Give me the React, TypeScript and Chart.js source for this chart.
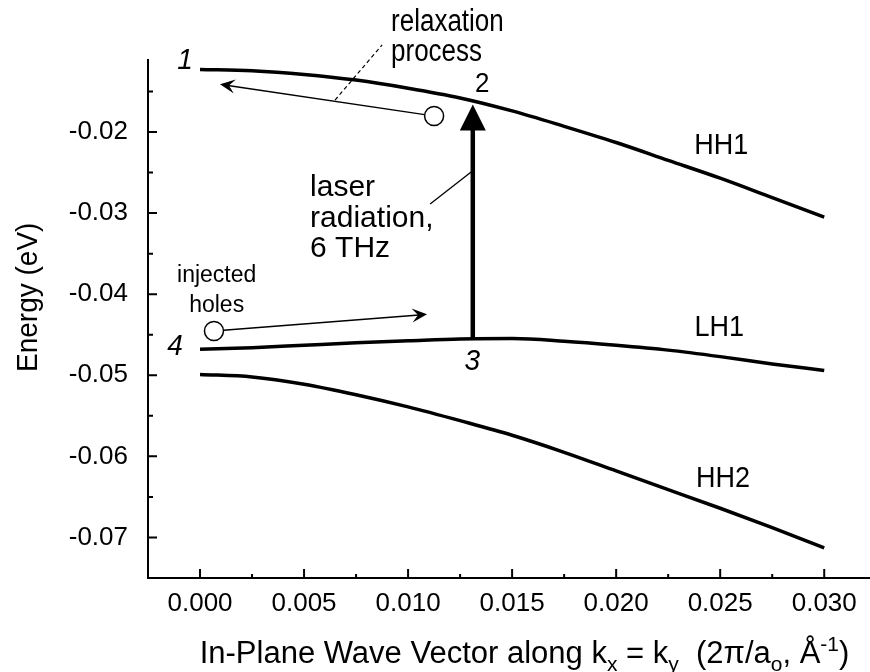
import { useEffect, useRef } from "react";
import { Chart, registerables } from "chart.js";

Chart.register(...registerables);

// ---- data ----
const kValues = [0, 0.0025, 0.005, 0.0075, 0.01, 0.0125, 0.015, 0.0175, 0.02, 0.0225, 0.025, 0.0275, 0.03];
const hh1Energy = [-0.0123, -0.01245, -0.0129, -0.0136, -0.0146, -0.0158, -0.0174, -0.0193, -0.0213, -0.0235, -0.0257, -0.0281, -0.0305];
const lh1Energy = [-0.0468, -0.0466, -0.0463, -0.046, -0.04575, -0.04552, -0.04548, -0.0458, -0.0463, -0.0469, -0.0477, -0.0486, -0.0494];
const hh2Energy = [-0.0499, -0.0502, -0.0511, -0.0524, -0.0539, -0.0556, -0.0574, -0.0595, -0.0618, -0.0641, -0.0664, -0.0688, -0.0713];

const xTicks = [0, 0.005, 0.01, 0.015, 0.02, 0.025, 0.03];
const xMinorTicks = [-0.0025, 0.0025, 0.0075, 0.0125, 0.0175, 0.0225, 0.0275];
const yTicks = [-0.02, -0.03, -0.04, -0.05, -0.06, -0.07];
const yMinorTicks = [-0.015, -0.025, -0.035, -0.045, -0.055, -0.065, -0.075];

// band labels
const bandLabels = ["HH1", "LH1", "HH2"];
const bandLabelK = [0.02505, 0.02495, 0.02514];
const bandLabelE = [-0.02173, -0.04417, -0.0628];

// state numbers
const pointLabels = ["1", "2", "3", "4"];
const pointLabelK = [-0.00072, 0.01356, 0.01308, -0.0012];
const pointLabelE = [-0.01125, -0.01408, -0.04837, -0.04652];
const pointLabelItalic = [true, false, true, true];

// thin arrows (relaxation, injected holes): circle start -> arrow tip
const arrowStartK = [0.01125, 0.00067];
const arrowStartE = [-0.01803, -0.04454];
const arrowEndK = [0.00096, 0.01091];
const arrowEndE = [-0.01412, -0.04248];

// laser transition arrow 3 -> 2
const laserK = 0.01311;
const laserFromE = -0.0455;
const laserToE = -0.0166;

// annotation texts
const relaxText = ["relaxation", "process"];
const relaxTextK = 0.00918;
const relaxTextE = [-0.00755, -0.01125];
const relaxLeaderK = [0.00649, 0.00875];
const relaxLeaderE = [-0.01606, -0.00927];

const laserText = ["laser", "radiation,", "6 THz"];
const laserTextK = 0.00529;
const laserTextE = [-0.0279, -0.03168, -0.03545];
const laserLeaderK = [0.01106, 0.01303];
const laserLeaderE = [-0.02888, -0.02494];

const holesText = ["injected", "holes"];
const holesTextK = 0.0008;
const holesTextE = [-0.0385, -0.04216];

const FONT = "'Liberation Sans', Arial, Helvetica, sans-serif";

function drawText(
  ctx: CanvasRenderingContext2D,
  text: string,
  x: number,
  y: number,
  font: string,
  align: CanvasTextAlign,
  baseline: CanvasTextBaseline,
  sy = 1
) {
  ctx.save();
  ctx.translate(x, y);
  ctx.scale(1, sy);
  ctx.font = font;
  ctx.textAlign = align;
  ctx.textBaseline = baseline;
  ctx.fillStyle = "#000";
  ctx.fillText(text, 0, 0);
  ctx.restore();
}

function stealthHead(ctx: CanvasRenderingContext2D, tx: number, ty: number, fx: number, fy: number, len: number, half: number, notch: number) {
  const ang = Math.atan2(ty - fy, tx - fx);
  ctx.save();
  ctx.translate(tx, ty);
  ctx.rotate(ang);
  ctx.beginPath();
  ctx.moveTo(0, 0);
  ctx.lineTo(-len, -half);
  ctx.lineTo(-notch, 0);
  ctx.lineTo(-len, half);
  ctx.closePath();
  ctx.fillStyle = "#000";
  ctx.fill();
  ctx.restore();
}

const overlay = {
  id: "overlay",
  afterDraw(chart: any) {
    const ctx: CanvasRenderingContext2D = chart.ctx;
    const ca = chart.chartArea;
    const sx = chart.scales.x;
    const sy = chart.scales.y;
    const X = (v: number) => sx.getPixelForValue(v);
    const Y = (v: number) => sy.getPixelForValue(v);

    ctx.save();
    ctx.strokeStyle = "#000";
    ctx.lineCap = "butt";

    // axes lines
    ctx.lineWidth = 2;
    ctx.beginPath();
    ctx.moveTo(ca.left, ca.top);
    ctx.lineTo(ca.left, ca.bottom);
    ctx.moveTo(ca.left - 1, ca.bottom);
    ctx.lineTo(ca.right, ca.bottom);
    ctx.stroke();

    // inward ticks
    ctx.beginPath();
    yTicks.forEach((v) => {
      const p = Y(v);
      ctx.moveTo(ca.left, p);
      ctx.lineTo(ca.left + 9, p);
    });
    yMinorTicks.forEach((v) => {
      const p = Y(v);
      ctx.moveTo(ca.left, p);
      ctx.lineTo(ca.left + 5, p);
    });
    xTicks.forEach((v) => {
      const p = X(v);
      ctx.moveTo(p, ca.bottom);
      ctx.lineTo(p, ca.bottom - 9);
    });
    xMinorTicks.forEach((v) => {
      const p = X(v);
      ctx.moveTo(p, ca.bottom);
      ctx.lineTo(p, ca.bottom - 4);
    });
    ctx.stroke();

    // thin arrows with open circles
    for (let i = 0; i < arrowStartK.length; i++) {
      const cx = X(arrowStartK[i]);
      const cy = Y(arrowStartE[i]);
      const tx = X(arrowEndK[i]);
      const ty = Y(arrowEndE[i]);
      const r = 9.5;
      const ang = Math.atan2(ty - cy, tx - cx);
      ctx.lineWidth = 1.5;
      ctx.beginPath();
      ctx.moveTo(cx + r * Math.cos(ang), cy + r * Math.sin(ang));
      ctx.lineTo(tx - 8 * Math.cos(ang), ty - 8 * Math.sin(ang));
      ctx.stroke();
      stealthHead(ctx, tx, ty, cx, cy, 15, 7, 9);
      ctx.beginPath();
      ctx.arc(cx, cy, r, 0, Math.PI * 2);
      ctx.fillStyle = "#fff";
      ctx.fill();
      ctx.lineWidth = 1.5;
      ctx.stroke();
    }

    // laser arrow
    const lx = X(laserK);
    const lyFrom = Y(laserFromE);
    const lyTo = Y(laserToE);
    ctx.lineWidth = 4.5;
    ctx.beginPath();
    ctx.moveTo(lx, lyFrom);
    ctx.lineTo(lx, lyTo + 24);
    ctx.stroke();
    ctx.beginPath();
    ctx.moveTo(lx, lyTo);
    ctx.lineTo(lx - 13, lyTo + 26);
    ctx.lineTo(lx + 13, lyTo + 26);
    ctx.closePath();
    ctx.fillStyle = "#000";
    ctx.fill();

    // leader lines
    ctx.lineWidth = 1.3;
    ctx.beginPath();
    ctx.moveTo(X(laserLeaderK[0]), Y(laserLeaderE[0]));
    ctx.lineTo(X(laserLeaderK[1]), Y(laserLeaderE[1]));
    ctx.stroke();
    ctx.save();
    ctx.setLineDash([4, 3]);
    ctx.lineWidth = 1.2;
    ctx.beginPath();
    ctx.moveTo(X(relaxLeaderK[0]), Y(relaxLeaderE[0]));
    ctx.lineTo(X(relaxLeaderK[1]), Y(relaxLeaderE[1]));
    ctx.stroke();
    ctx.restore();

    // texts
    bandLabels.forEach((t, i) => drawText(ctx, t, X(bandLabelK[i]), Y(bandLabelE[i]), `27px ${FONT}`, "center", "middle", 1.1));
    pointLabels.forEach((t, i) =>
      drawText(
        ctx,
        t,
        X(pointLabelK[i]),
        Y(pointLabelE[i]),
        pointLabelItalic[i] ? `italic 28px ${FONT}` : `26px ${FONT}`,
        "center",
        "middle",
        1.05
      )
    );
    relaxText.forEach((t, i) => drawText(ctx, t, X(relaxTextK), Y(relaxTextE[i]), `26px ${FONT}`, "left", "alphabetic", 1.2));
    laserText.forEach((t, i) => drawText(ctx, t, X(laserTextK), Y(laserTextE[i]), `30px ${FONT}`, "left", "alphabetic", 1));
    holesText.forEach((t, i) => drawText(ctx, t, X(holesTextK), Y(holesTextE[i]), `23px ${FONT}`, "center", "alphabetic", 1.05));

    // y axis title
    ctx.save();
    ctx.translate(36.7, 372);
    ctx.rotate(-Math.PI / 2);
    ctx.scale(1, 1.08);
    ctx.font = `28px ${FONT}`;
    ctx.textAlign = "left";
    ctx.textBaseline = "alphabetic";
    ctx.fillStyle = "#000";
    ctx.fillText("Energy (eV)", 0, 0);
    ctx.restore();

    // x axis title with sub/superscripts
    const parts: [string, number][] = [
      ["In-Plane Wave Vector along k", 0],
      ["x", 1],
      [" = k", 0],
      ["y", 1],
      ["  (2\u03c0/a", 0],
      ["o", 1],
      [", \u00c5", 0],
      ["-1", -1],
      [")", 0],
    ];
    const big = `31px ${FONT}`;
    const small = `21px ${FONT}`;
    let total = 0;
    parts.forEach(([t, k]) => {
      ctx.font = k === 0 ? big : small;
      total += ctx.measureText(t).width;
    });
    let cx = 524.5 - total / 2;
    const base = 663;
    ctx.textAlign = "left";
    ctx.textBaseline = "alphabetic";
    ctx.fillStyle = "#000";
    parts.forEach(([t, k]) => {
      ctx.font = k === 0 ? big : small;
      const yy = k === 1 ? base + 8 : k === -1 ? base - 12 : base;
      ctx.fillText(t, cx, yy);
      cx += ctx.measureText(t).width;
    });

    ctx.restore();
  },
};

export default function App() {
  const ref = useRef<HTMLCanvasElement>(null);
  useEffect(() => {
    const canvas = ref.current;
    if (!canvas) return;
    const mk = (vals: number[]) => kValues.map((k, i) => ({ x: k, y: vals[i] }));
    const lineStyle = {
      borderColor: "#000",
      borderWidth: 3.5,
      pointRadius: 0,
      cubicInterpolationMode: "monotone" as const,
      fill: false,
      borderCapStyle: "butt" as const,
    };
    const chart = new Chart(canvas, {
      type: "line",
      data: {
        datasets: [
          { label: "HH1", data: mk(hh1Energy), ...lineStyle },
          { label: "LH1", data: mk(lh1Energy), ...lineStyle },
          { label: "HH2", data: mk(hh2Energy), ...lineStyle },
        ],
      },
      options: {
        responsive: false,
        animation: false,
        devicePixelRatio: 1,
        layout: { padding: { top: 59, right: 0, bottom: 0, left: 0 } },
        plugins: {
          legend: { display: false },
          tooltip: { enabled: false },
          title: { display: false },
        },
        scales: {
          x: {
            type: "linear",
            position: "bottom",
            min: -0.0025,
            max: 0.0322,
            grid: { display: false, drawTicks: false },
            border: { display: false },
            afterBuildTicks: (s: any) => {
              s.ticks = xTicks.map((v) => ({ value: v }));
            },
            afterFit: (s: any) => {
              s.height = 94;
            },
            ticks: {
              padding: 10,
              autoSkip: false,
              maxRotation: 0,
              color: "#000",
              font: { family: FONT, size: 26 },
              callback: (v: any) => Number(v).toFixed(3),
            },
          },
          y: {
            type: "linear",
            position: "left",
            min: -0.075,
            max: -0.011,
            grid: { display: false, drawTicks: false },
            border: { display: false },
            afterBuildTicks: (s: any) => {
              s.ticks = yTicks.map((v) => ({ value: v }));
            },
            afterFit: (s: any) => {
              s.width = 148;
            },
            ticks: {
              padding: 20,
              autoSkip: false,
              color: "#000",
              font: { family: FONT, size: 26 },
              callback: (v: any) => Number(v).toFixed(2),
            },
          },
        },
      },
      plugins: [overlay],
    } as any);
    return () => chart.destroy();
  }, []);
  return (
    <div style={{ position: "absolute", left: 0, top: 0, width: 870, height: 672, background: "#fff" }}>
      <canvas ref={ref} width={870} height={672} style={{ display: "block", width: 870, height: 672 }} />
    </div>
  );
}
